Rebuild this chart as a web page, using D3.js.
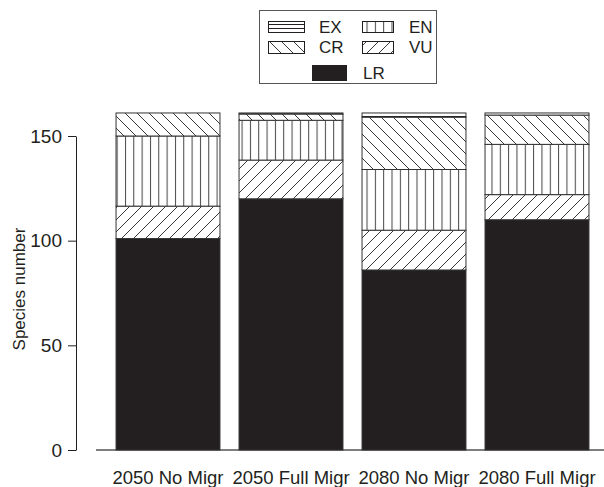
<!DOCTYPE html>
<html>
<head>
<meta charset="utf-8">
<script src="https://cdn.jsdelivr.net/npm/d3@7"></script>
<style>
  body { margin: 0; background: #fff; }
  svg { font-family: "Liberation Sans", Arial, sans-serif; display: block; }
</style>
</head>
<body>
<div id="chart"></div>
<script>
const scenarios = ['2050 No Migr', '2050 Full Migr', '2080 No Migr', '2080 Full Migr'];
const categories = ['LR', 'VU', 'EN', 'CR', 'EX'];
const lr = [101, 120, 86, 110];
const vu = [15.5, 18.5, 19, 12];
const en = [33.5, 19, 29, 24];
const cr = [11, 3, 25, 14];
const ex = [0, 0.5, 2, 1];
const yTicks = [0, 50, 100, 150];

const width = 604, height = 487;
const INK = '#231f20';

const rows = scenarios.map((s, i) => ({
  scenario: s, LR: lr[i], VU: vu[i], EN: en[i], CR: cr[i], EX: ex[i]
}));
const series = d3.stack().keys(categories)(rows);

const svg = d3.select('#chart').append('svg')
  .attr('width', width)
  .attr('height', height);

// hatch patterns
const defs = svg.append('defs');
function pattern(id, w, h, draw) {
  const p = defs.append('pattern')
    .attr('id', id)
    .attr('patternUnits', 'userSpaceOnUse')
    .attr('width', w)
    .attr('height', h);
  p.append('rect').attr('width', w).attr('height', h).attr('fill', '#fff');
  draw(p);
}
pattern('pEX', 8, 4, p => p.append('path').attr('d', 'M0,0.5 H8').attr('stroke', INK).attr('stroke-width', 1));
pattern('pEN', 8.33, 8, p => p.append('path').attr('d', 'M0.5,0 V8').attr('stroke', '#444').attr('stroke-width', 1));
pattern('pCR', 12, 12, p => p.append('path')
  .attr('d', 'M0,0 L12,12 M-1,11 L1,13 M11,-1 L13,1')
  .attr('stroke', INK).attr('stroke-width', 0.9));
pattern('pVU', 12, 12, p => p.append('path')
  .attr('d', 'M0,12 L12,0 M-1,1 L1,-1 M11,13 L13,11')
  .attr('stroke', INK).attr('stroke-width', 0.9));

const fills = { LR: INK, VU: 'url(#pVU)', EN: 'url(#pEN)', CR: 'url(#pCR)', EX: 'url(#pEX)' };

const x = d3.scaleBand()
  .domain(scenarios)
  .range([106.2, 598.8])
  .paddingInner(0.155)
  .paddingOuter(0.08);

const y = d3.scaleLinear()
  .domain([0, 150])
  .range([450, 136]);

// baseline
svg.append('line')
  .attr('x1', 96).attr('x2', width)
  .attr('y1', y(0)).attr('y2', y(0))
  .attr('stroke', '#555').attr('stroke-width', 1.5);

// bars
svg.append('g')
  .selectAll('g')
  .data(series)
  .join('g')
  .attr('fill', d => fills[d.key])
  .selectAll('rect')
  .data(d => d)
  .join('rect')
  .attr('x', d => x(d.data.scenario))
  .attr('width', x.bandwidth())
  .attr('y', d => y(d[1]))
  .attr('height', d => y(d[0]) - y(d[1]))
  .attr('stroke', '#333')
  .attr('stroke-width', 1);

// y axis
const yAxis = svg.append('g')
  .attr('transform', 'translate(76,0)')
  .call(d3.axisLeft(y).tickValues(yTicks).tickSize(8).tickPadding(6).tickSizeOuter(0));
yAxis.select('.domain').attr('stroke', INK);
yAxis.selectAll('.tick line').attr('stroke', INK);
yAxis.selectAll('.tick text')
  .attr('font-size', 19)
  .attr('font-family', '"Liberation Sans", Arial, sans-serif')
  .attr('fill', INK);

svg.append('text')
  .attr('transform', 'translate(25,289) rotate(-90)')
  .attr('text-anchor', 'middle')
  .attr('font-size', 17)
  .attr('fill', INK)
  .text('Species number');

// category labels
svg.append('g')
  .selectAll('text')
  .data(scenarios)
  .join('text')
  .attr('x', d => x(d) + x.bandwidth() / 2)
  .attr('y', 484)
  .attr('text-anchor', 'middle')
  .attr('font-size', 18.5)
  .attr('fill', INK)
  .text(d => d);

// legend
const legend = svg.append('g');
legend.append('rect')
  .attr('x', 259.5).attr('y', 10.5)
  .attr('width', 177).attr('height', 73)
  .attr('fill', '#fff')
  .attr('stroke', '#555').attr('stroke-width', 1);

const legendItems = [
  { key: 'EX', sx: 268, sy: 21, sw: 36, sh: 11, tx: 319, ty: 33 },
  { key: 'EN', sx: 362, sy: 21, sw: 31, sh: 11, tx: 409, ty: 33 },
  { key: 'CR', sx: 268, sy: 41, sw: 36, sh: 12, tx: 319, ty: 53 },
  { key: 'VU', sx: 362, sy: 41, sw: 31, sh: 12, tx: 409, ty: 53 },
  { key: 'LR', sx: 312, sy: 65, sw: 34, sh: 15, tx: 363, ty: 79 }
];
const li = legend.selectAll('g.item')
  .data(legendItems)
  .join('g')
  .attr('class', 'item');
li.append('rect')
  .attr('x', d => d.sx + 0.5).attr('y', d => d.sy + 0.5)
  .attr('width', d => d.sw).attr('height', d => d.sh)
  .attr('fill', d => fills[d.key])
  .attr('stroke', INK).attr('stroke-width', 1);
li.append('text')
  .attr('x', d => d.tx).attr('y', d => d.ty)
  .attr('font-size', 17)
  .attr('fill', INK)
  .text(d => d.key);
</script>
</body>
</html>
